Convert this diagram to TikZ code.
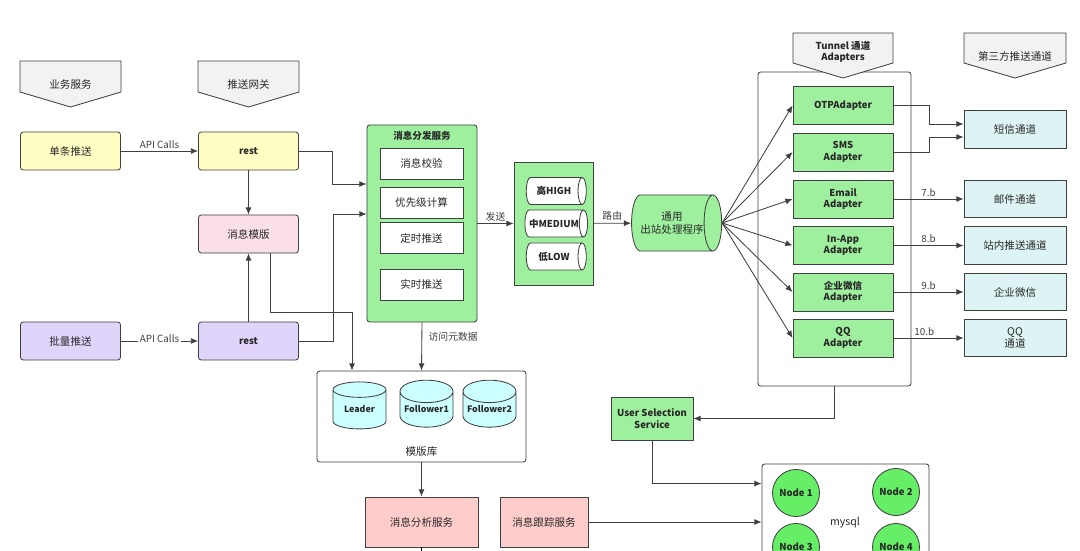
\documentclass[tikz,border=0pt]{standalone}
\usepackage{fontspec}
\setmainfont{Noto Sans CJK SC}
\usetikzlibrary{arrows.meta,positioning,calc,shapes.geometric}
\definecolor{Line}{RGB}{64,64,64}
\definecolor{TextDark}{RGB}{40,40,40}
\definecolor{HeadGray}{RGB}{242,242,242}
\definecolor{SoftYellow}{RGB}{255,255,196}
\definecolor{SoftPink}{RGB}{250,222,234}
\definecolor{SoftPurple}{RGB}{225,212,250}
\definecolor{MidGreen}{RGB}{158,240,158}
\definecolor{NodeGreen}{RGB}{102,238,102}
\definecolor{SoftCyan}{RGB}{222,244,244}
\definecolor{DbCyan}{RGB}{204,255,255}
\definecolor{SoftRed}{RGB}{255,204,204}
\newcommand\boldlbl{\fontsize{6.8}{8.3}\selectfont\bfseries}

\begin{document}
\begin{tikzpicture}[x=0.025cm, y=-0.025cm,
    every node/.style={font=\fontsize{7.5}{9}\selectfont, text=TextDark},
    box/.style={draw=Line, line width=0.6pt, align=center, inner sep=1pt},
    hdrshape/.style={draw=Line, fill=HeadGray, line width=0.6pt},
    hdr/.style={align=center, inner sep=0pt},
    client/.style={box, rounded corners=2pt, minimum width=2.5cm, minimum height=0.95cm},
    gw/.style={client, font=\boldlbl},
    frame/.style={draw=Line, line width=0.6pt, rounded corners=2pt, inner sep=0pt},
    inner/.style={box, fill=white, minimum width=2.075cm, minimum height=0.775cm},
    queue/.style={cylinder, draw=Line, fill=white, line width=0.6pt, shape aspect=0.9,
      minimum width=0.675cm, minimum height=1.5cm, inner sep=0pt, font=\boldlbl},
    adapter/.style={box, fill=MidGreen, minimum width=2.5cm, minimum height=0.95cm, font=\boldlbl},
    chan/.style={box, fill=SoftCyan, minimum width=2.55cm, minimum height=0.93cm},
    db/.style={cylinder, shape border rotate=90, draw=Line, fill=DbCyan, line width=0.6pt,
      shape aspect=0.5, minimum width=1.325cm, minimum height=1.175cm, inner sep=0pt,
      font=\fontsize{6.3}{8}\selectfont\bfseries},
    svc/.style={box, fill=SoftRed, minimum height=1.25cm},
    dbnode/.style={circle, draw=Line, fill=NodeGreen, line width=0.6pt, minimum size=1.175cm,
      inner sep=0pt, font=\boldlbl},
    arr/.style={-{Latex[length=1.8mm,width=1.5mm]}, line width=0.6pt, draw=Line},
    lbl/.style={font=\fontsize{7}{8}\selectfont, text=Line, inner sep=1.5pt}
  ]
    \fill[white] (0,0) rectangle (1080,551);
    \useasboundingbox (0,0) rectangle (1080,551);

    % containers
    \node[frame, fill=MidGreen, minimum width=2.75cm, minimum height=4.925cm] (dispatch) at (422,223.5) {};
    \node[font=\boldlbl, below=1pt of dispatch.north] (dispatchTitle) {消息分发服务};
    \node[frame, rounded corners=0pt, fill=MidGreen, minimum width=1.975cm, minimum height=3.075cm] (queue) at (553.5,223.5) {};
    \node[frame, minimum width=3.825cm, minimum height=7.85cm] (tunnel) at (834.5,229) {};
    \node[frame, minimum width=5.225cm, minimum height=2.275cm] (repo) at (421.5,416.5) {};
    \node[above=1pt of repo.south] (repoTitle) {模版库};
    \node[frame, minimum width=4.175cm, minimum height=3.4cm] (mysql) at (845.5,532) {};
    \node (mysqlTitle) at (845,523) {mysql};

    % headers
    \path[hdrshape] (20,61) -- (20,92) -- (70.5,107) -- (121,92) -- (121,61) -- cycle;
    \node[hdr] (hdrBiz) at (70.5,84) {业务服务};
    \path[hdrshape] (198,61) -- (198,92) -- (248.5,107) -- (299,92) -- (299,61) -- cycle;
    \node[hdr] (hdrGw) at (248.5,84) {推送网关};
    \path[hdrshape] (793,33) -- (793,63) -- (843,78) -- (893,63) -- (893,33) -- cycle;
    \node[hdr, font=\boldlbl] (hdrTunnel) at (843,52) {Tunnel 通道\\Adapters};
    \path[hdrshape] (964,33) -- (964,63) -- (1015,78) -- (1066,63) -- (1066,33) -- cycle;
    \node[hdr] (hdrThird) at (1015,56) {第三方推送通道};

    % clients and gateway
    \node[client, fill=SoftYellow] (single) at (70.5,151) {单条推送};
    \node[gw, fill=SoftYellow] (rest1) at (248.5,151) {rest};
    \node[client, fill=SoftPink] (tpl) at (248.5,234) {消息模版};
    \node[client, fill=SoftPurple] (batch) at (70.5,341) {批量推送};
    \node[gw, fill=SoftPurple] (rest2) at (248.5,341) {rest};

    % dispatch steps
    \node[inner] (check) at (421.5,163.5) {消息校验};
    \node[inner] (prio) at (421.5,202.5) {优先级计算};
    \node[inner] (timed) at (421.5,238) {定时推送};
    \node[inner] (realtime) at (421.5,284.5) {实时推送};

    % priority queues
    \node[queue] (qHigh) at (554,191) {高HIGH};
    \node[queue] (qMed) at (554,223.5) {中MEDIUM};
    \node[queue] (qLow) at (554,256.5) {低LOW};

    \node[cylinder, draw=Line, fill=MidGreen, line width=0.6pt, shape aspect=0.8,
      minimum width=1.4cm, minimum height=1.9cm, inner sep=0pt, align=center] (outbound) at (672,223) {通用\\出站处理程序};

    % adapters
    \node[adapter] (otp) at (843,105.5) {OTPAdapter};
    \node[adapter] (sms) at (843,152) {SMS\\Adapter};
    \node[adapter] (email) at (843,199) {Email\\Adapter};
    \node[adapter] (inapp) at (843,245.5) {In-App\\Adapter};
    \node[adapter] (wecom) at (843,292) {企业微信\\Adapter};
    \node[adapter] (qq) at (843,338) {QQ\\Adapter};

    % third-party channels
    \node[chan] (smsCh) at (1015,129.5) {短信通道};
    \node[chan] (mailCh) at (1015,199) {邮件通道};
    \node[chan] (siteCh) at (1015,245.5) {站内推送通道};
    \node[chan] (wecomCh) at (1015,292) {企业微信};
    \node[chan] (qqCh) at (1015,338) {QQ\\通道};

    \node[box, fill=MidGreen, minimum width=2.05cm, minimum height=1.075cm,
      font=\boldlbl] (uss) at (652,418.5) {User Selection\\Service};

    % template store
    \node[db] (leader) at (359.5,409.5) {Leader};
    \node[db] (follower1) at (426.5,409.5) {Follower1};
    \node[db] (follower2) at (489.5,409.5) {Follower2};

    \node[svc, minimum width=2.825cm] (analysis) at (421.5,522) {消息分析服务};
    \node[svc, minimum width=2.2cm] (trace) at (544,522) {消息跟踪服务};

    % mysql nodes
    \node[dbnode] (n1) at (796,493) {Node 1};
    \node[dbnode] (n2) at (896,492) {Node 2};
    \node[dbnode] (n3) at (796,547) {Node 3};
    \node[dbnode] (n4) at (896,547) {Node 4};

    % connectors
    \draw[arr] (single) -- node[lbl, above] {API Calls} (rest1);
    \draw[arr] (batch) -- node[lbl, fill=white, yshift=1.5pt] {API Calls} (rest2);
    \draw[arr] (rest1) -- (tpl);
    \draw[arr] (rest2) -- (tpl);
    \draw[arr] (rest1.east) -- ++(33,0) |- ($(dispatch.west)+(0,-39.5)$);
    \draw[arr] (rest2.east) -- ++(34,0) |- ($(dispatch.west)+(0,-9.5)$);
    \draw[arr] ($(tpl.south)+(21.5,0)$) -- ++(0,59) -| ($(repo.north)+(-69.5,0)$);
    \draw[arr] (dispatch) -- node[lbl, above] {发送} (queue);
    \draw[arr] (queue) -- node[lbl, above] {路由} (outbound);
    \draw[arr] (dispatch.south) -- node[lbl, right, pos=0.3, xshift=3pt] {访问元数据} (repo.north);
    \draw[arr] (repo.south) -- (analysis.north);
    \draw (analysis.south) -- ++(0,12);
    \foreach \a in {otp,sms,email,inapp,wecom,qq}
      \draw[arr] (outbound.east) -- (\a.west);
    \draw[arr] (otp.east) -- ++(36,0) |- ($(smsCh.west)+(0,-5.5)$);
    \draw[arr] (sms.east) -- ++(36,0) |- ($(smsCh.west)+(0,7.5)$);
    \draw[arr] (email) -- node[lbl, above] {7.b} (mailCh);
    \draw[arr] (inapp) -- node[lbl, above] {8.b} (siteCh);
    \draw[arr] (wecom) -- node[lbl, above] {9.b} (wecomCh);
    \draw[arr] (qq) -- node[lbl, above, xshift=-3pt] {10.b} (qqCh);
    \draw[arr] (tunnel.south) |- (uss.east);
    \draw[arr] (uss.south) |- ($(mysql.north west)+(0,20)$);
    \draw[arr] (trace.east) -- (trace.east -| mysql.west);
  \end{tikzpicture}
\end{document}
